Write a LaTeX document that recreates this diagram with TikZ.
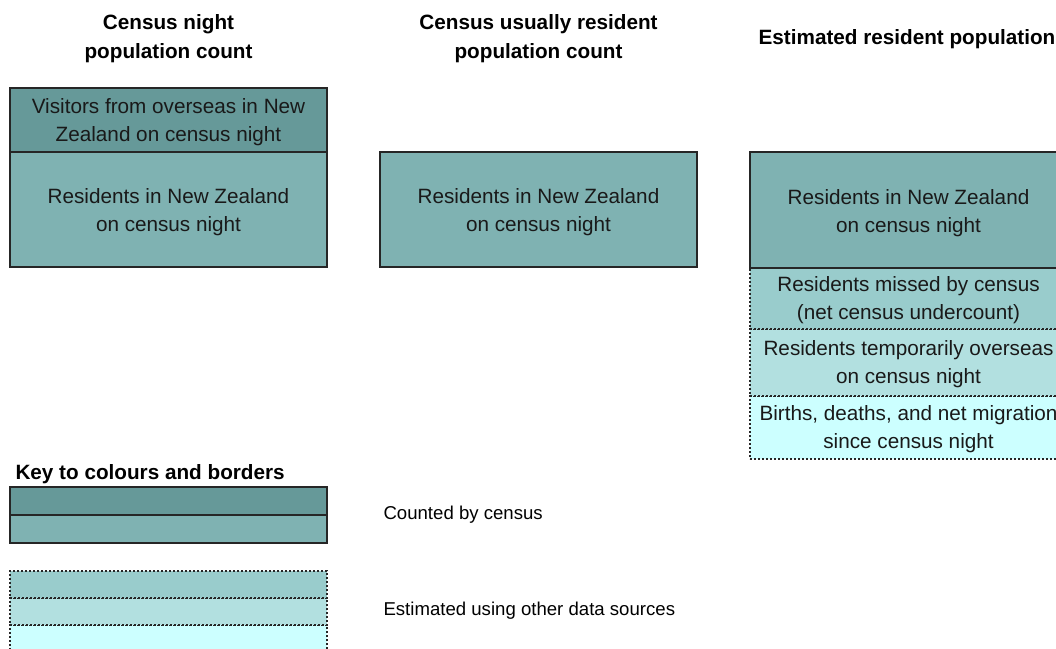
\documentclass[tikz,border=0pt]{standalone}
\usepackage{fontspec}
\setmainfont{Liberation Sans}
\definecolor{cdark}{HTML}{669999}
\definecolor{cmid}{HTML}{7FB2B2}
\definecolor{cmiss}{HTML}{99CCCC}
\definecolor{ctemp}{HTML}{B2E0E0}
\definecolor{cbirth}{HTML}{CCFFFF}
\definecolor{cline}{HTML}{262626}
\begin{document}
\begin{tikzpicture}[x=1pt,y=-1pt,
  boxtext/.style={font=\fontsize{20.7}{28}\selectfont, align=center, text=black!90},
  solidbox/.style={draw=cline, line width=1.2pt, minimum width=317pt, inner sep=0pt},
  dotbox/.style={draw=cline, line width=1.4pt, dash pattern=on 2pt off 2pt, minimum width=317pt, inner sep=0pt},
  heading/.style={font=\bfseries\fontsize{20.7}{29}\selectfont, align=center},
  keylabel/.style={font=\fontsize{18.6}{22}\selectfont, anchor=west}]
\useasboundingbox (0,0) rectangle (1056,648);
\clip (0,0) rectangle (1056,648);
% headings
\node[heading] (h1) at (168.5,39) {Census night\\population count};
\node[heading] (h2) at (538.5,39) {Census usually resident\\population count};
\node[heading] (h3) at (907,39) {Estimated resident population};
% left column
\node[solidbox, fill=cdark, minimum height=64pt] (vis) at (168.5,120) {};
\node[boxtext] (vist) at ([yshift=-2pt]vis.center) {Visitors from overseas in New\\Zealand on census night};
\node[solidbox, fill=cmid, minimum height=115pt] (res1) at (168.5,209.5) {};
\node[boxtext] (res1t) at ([yshift=-3pt]res1.center) {Residents in New Zealand\\on census night};
% middle column
\node[solidbox, fill=cmid, minimum height=115pt] (res2) at (538.5,209.5) {};
\node[boxtext] (res2t) at ([yshift=-3pt]res2.center) {Residents in New Zealand\\on census night};
% right column
\node[dotbox, fill=cbirth, minimum height=63pt] (birth) at (908.5,427.5) {};
\node[dotbox, fill=ctemp, minimum height=67pt] (temp) at (908.5,362.5) {};
\node[dotbox, fill=cmiss, minimum height=61pt] (miss) at (908.5,298.5) {};
\node[solidbox, fill=cmid, minimum height=116pt] (res3) at (908.5,210) {};
\node[boxtext] (res3t) at ([yshift=-3pt]res3.center) {Residents in New Zealand\\on census night};
\node[boxtext] (misst) at ([yshift=-2pt]miss.center) {Residents missed by census\\(net census undercount)};
\node[boxtext] (tempt) at ([yshift=-2pt]temp.center) {Residents temporarily overseas\\on census night};
\node[boxtext] (birtht) at ([yshift=-2pt]birth.center) {Births, deaths, and net migration\\since census night};
% key
\node[font=\bfseries\fontsize{20.7}{24}\selectfont, anchor=west] (keyt) at (12,474) {Key to colours and borders};
\node[solidbox, fill=cdark, minimum height=28pt] (k1) at (168.5,501) {};
\node[solidbox, fill=cmid, minimum height=28pt] (k2) at (168.5,529) {};
\node[dotbox, fill=cbirth, minimum height=27pt] (k5) at (168.5,638.5) {};
\node[dotbox, fill=ctemp, minimum height=27pt] (k4) at (168.5,611.5) {};
\node[dotbox, fill=cmiss, minimum height=27pt] (k3) at (168.5,584.5) {};
\node[keylabel] (l1) at (380,515) {Counted by census};
\node[keylabel] (l2) at (380,611) {Estimated using other data sources};
\end{tikzpicture}
\end{document}
